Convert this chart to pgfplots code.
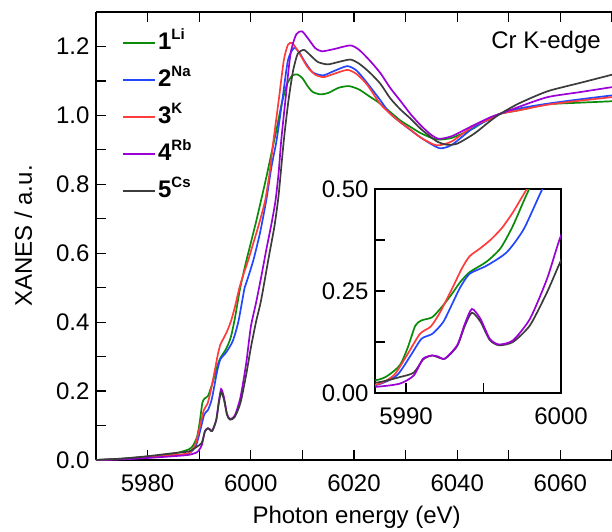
\documentclass[border=0pt]{standalone}
\usepackage{fontspec}
\setmainfont{Liberation Sans}
\usepackage{pgfplots}
\pgfplotsset{compat=1.18}
\usepackage{pgfplotstable}

\definecolor{cLi}{RGB}{10,140,10}
\definecolor{cNa}{RGB}{35,70,255}
\definecolor{cK}{RGB}{255,60,60}
\definecolor{cRb}{RGB}{155,0,215}
\definecolor{cCs}{RGB}{60,60,60}

\newcommand{\fs}{\fontsize{24}{28}\selectfont}
\newcommand{\supsc}[1]{\raisebox{0.42em}{\fontsize{15}{15}\selectfont\textbf{#1}}}

\pgfplotstableread{
x y
5970 0.000
5975 0.004
5980 0.010
5985 0.018
5988 0.031
5988.8 0.042
5989.6 0.068
5990.1 0.110
5990.6 0.165
5991.0 0.178
5991.7 0.186
5992.4 0.215
5993.0 0.245
5993.5 0.272
5994.1 0.296
5995.2 0.322
5996.1 0.355
5996.9 0.410
5997.9 0.496
5999 0.570
6000 0.630
6001 0.690
6002 0.754
6003 0.820
6004 0.890
6005 0.960
6006 1.035
6007 1.090
6008 1.115
6009 1.119
6010 1.108
6011 1.085
6012 1.068
6013.5 1.061
6015 1.065
6017 1.080
6019 1.085
6021 1.075
6023 1.055
6025 1.035
6027 1.010
6029 0.985
6031 0.966
6033 0.948
6036 0.930
6039 0.935
6043 0.961
6046 0.990
6048.4 1.005
6052 1.015
6057.5 1.032
6064 1.037
6070 1.041
}\tLi

\pgfplotstableread{
x y
5970 0.000
5975 0.003
5980 0.007
5985 0.013
5988 0.019
5989.4 0.043
5990.3 0.092
5991.0 0.133
5991.7 0.145
5992.4 0.174
5993.0 0.220
5993.5 0.259
5994.1 0.292
5995.2 0.312
5996.5 0.345
5997.6 0.402
5998.8 0.500
5999.3 0.522
6000.5 0.580
6001.8 0.660
6003.0 0.754
6004.0 0.850
6005.0 0.928
6006.1 1.043
6007.2 1.160
6008.4 1.196
6009.5 1.180
6010.5 1.155
6012 1.125
6014 1.116
6016 1.128
6018.7 1.143
6020.5 1.130
6022.5 1.095
6025 1.046
6027 1.005
6029 0.980
6031 0.957
6033 0.935
6036.5 0.905
6039 0.915
6043.3 0.966
6046.5 0.990
6048.4 1.005
6052 1.020
6057.5 1.034
6064 1.047
6070 1.058
}\tNa

\pgfplotstableread{
x y
5970 0.000
5975 0.003
5980 0.008
5985 0.014
5988 0.020
5989.2 0.043
5990.05 0.092
5990.9 0.145
5991.6 0.163
5992.2 0.198
5993.0 0.258
5993.6 0.305
5994.1 0.335
5994.8 0.355
5995.5 0.377
5996.2 0.405
5996.9 0.443
5997.8 0.500
5998.5 0.535
5999.5 0.580
6000.5 0.630
6001.5 0.680
6002.8 0.754
6003.7 0.840
6004.4 0.928
6005.4 1.043
6006.4 1.160
6007.2 1.205
6008.0 1.210
6009 1.190
6010 1.165
6011 1.140
6012.5 1.118
6014.1 1.111
6016 1.120
6018.7 1.132
6020.5 1.120
6022.5 1.090
6025 1.035
6027 1.005
6029 0.980
6031 0.958
6033 0.935
6036 0.913
6039 0.925
6043.3 0.971
6046.5 0.990
6048.4 1.005
6052 1.015
6057.5 1.031
6064 1.043
6070 1.053
}\tK

\pgfplotstableread{
x y
5970 0.000
5975 0.002
5980 0.006
5985 0.011
5988 0.015
5989.6 0.023
5990.5 0.043
5991.1 0.084
5991.7 0.092
5992.1 0.089
5992.5 0.084
5993.3 0.117
5993.8 0.170
5994.25 0.206
5994.8 0.182
5995.4 0.133
5996.0 0.119
5996.9 0.129
5998.0 0.182
5999.1 0.280
6000 0.386
6001 0.455
6002 0.530
6003 0.610
6004 0.685
6004.8 0.754
6005.4 0.835
6005.9 0.928
6006.7 1.043
6007.7 1.179
6008.8 1.235
6009.9 1.244
6011 1.225
6012.5 1.195
6013.8 1.186
6016 1.192
6019.3 1.203
6021 1.190
6023 1.160
6025.1 1.123
6027 1.080
6029 1.042
6031 1.003
6033 0.970
6035 0.943
6036.5 0.932
6039 0.940
6043 0.970
6046.5 0.995
6048.4 1.005
6052 1.025
6057.5 1.053
6064 1.068
6070 1.082
}\tRb

\pgfplotstableread{
x y
5970 0.000
5975 0.004
5980 0.011
5985 0.020
5988 0.025
5989.6 0.039
5990.5 0.050
5991.1 0.082
5991.7 0.092
5992.5 0.084
5993.3 0.115
5993.8 0.165
5994.25 0.197
5994.8 0.175
5995.4 0.130
5996.0 0.117
5996.9 0.125
5998.0 0.166
5999.1 0.247
6000 0.325
6001 0.400
6002.0 0.464
6003.5 0.590
6004.6 0.680
6005.4 0.770
6006.4 0.928
6007.3 1.043
6008.2 1.130
6009.1 1.179
6010.3 1.190
6011.5 1.175
6013 1.155
6014.9 1.148
6017 1.155
6019.3 1.162
6021 1.150
6023 1.125
6025.1 1.092
6027 1.050
6029 1.017
6031 0.990
6033 0.960
6036 0.925
6038 0.915
6040 0.918
6043.3 0.947
6046.5 0.985
6048.4 1.005
6052 1.035
6057.5 1.070
6064 1.095
6070 1.118
}\tCs

\begin{document}
\begin{tikzpicture}
\pgfplotsset{
  every axis/.append style={
    font=\fs,
    tick label style={font=\fs},
    /pgf/number format/assume math mode=true,
    /pgf/number format/1000 sep={},
    tick align=inside,
    major tick length=10pt,
    minor tick length=10pt,
    tick style={line width=1.3pt, black},
    xtick pos=bottom, ytick pos=left,
    xticklabel style={yshift=-11pt},
    yticklabel style={xshift=-3pt},
  },
  curve/.style={line width=1.7pt, smooth, tension=0.4},
}
\begin{axis}[
  at={(0pt,0pt)}, anchor=south west,
  scale only axis, width=516pt, height=448pt,
  xmin=5970, xmax=6070, ymin=0, ymax=1.3,
  axis y line*=left, axis x line*=box,
  axis line style={line width=1.5pt},
  xtick={5980,6000,6020,6040,6060},
  minor xtick={5970,5990,6010,6030,6050,6070},
  ytick={0,0.2,0.4,0.6,0.8,1.0,1.2},
  minor ytick={0.1,0.3,0.5,0.7,0.9,1.1},
  yticklabel style={/pgf/number format/.cd, fixed, fixed zerofill, precision=1},
  xlabel={Photon energy (eV)},
  ylabel={XANES / a.u.},
  xlabel style={at={(axis description cs:0.505,-0.128)}, anchor=center},
  ylabel style={at={(axis description cs:-0.141,0.5)}, anchor=center},
  legend style={at={(0.045,0.965)}, anchor=north west, draw=none, fill=none,
    font=\fs, row sep=11pt, nodes={inner sep=2pt, text height=18pt, text depth=4pt}},
  legend cell align=left,
  legend image code/.code={\draw[#1, line width=1.7pt] (-2pt,0pt) -- (30pt,0pt);},
]
\addplot[curve, cLi] table {\tLi};
\addlegendentry{\textbf{1}\supsc{Li}}
\addplot[curve, cNa] table {\tNa};
\addlegendentry{\textbf{2}\supsc{Na}}
\addplot[curve, cK] table {\tK};
\addlegendentry{\textbf{3}\supsc{K}}
\addplot[curve, cRb] table {\tRb};
\addlegendentry{\textbf{4}\supsc{Rb}}
\addplot[curve, cCs] table {\tCs};
\addlegendentry{\textbf{5}\supsc{Cs}}
\node[anchor=east, font=\fs] at (rel axis cs:0.985,0.933) {Cr K-edge};
\end{axis}

\begin{axis}[
  at={(279pt,67pt)}, anchor=south west,
  scale only axis, width=186pt, height=204pt,
  xmin=5988, xmax=6000, ymin=0, ymax=0.5,
  axis line style={line width=1.3pt},
  axis background/.style={fill=white},
  xtick={5990,6000}, minor xtick={5995},
  ytick={0,0.25,0.5}, minor ytick={0.125,0.375},
  yticklabel style={/pgf/number format/.cd, fixed, fixed zerofill, precision=2},
]
\addplot[curve, cLi] table {\tLi};
\addplot[curve, cNa] table {\tNa};
\addplot[curve, cK] table {\tK};
\addplot[curve, cCs] table {\tCs};
\addplot[curve, cRb] table {\tRb};
\end{axis}
\pgfresetboundingbox
\path[use as bounding box] (-96pt,-71pt) rectangle (516pt,460pt);
\end{tikzpicture}
\end{document}
